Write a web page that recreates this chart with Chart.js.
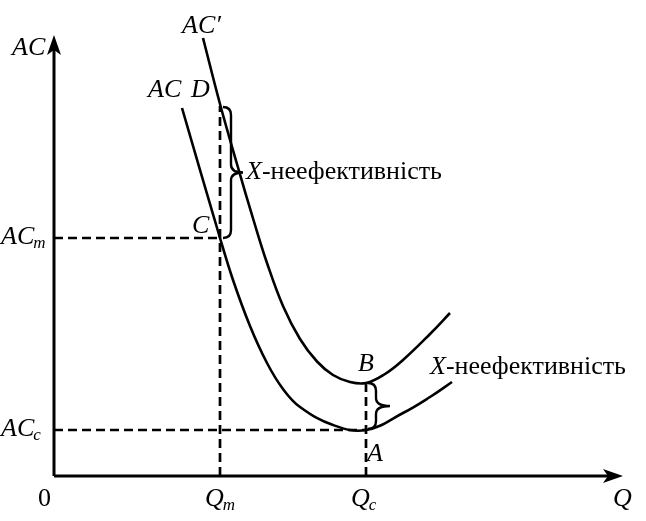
<!DOCTYPE html>
<html>
<head>
<meta charset="utf-8">
<script src="https://cdn.jsdelivr.net/npm/chart.js@4/dist/chart.umd.min.js"></script>
<style>
  html, body { margin: 0; padding: 0; background: #ffffff; }
  canvas { display: block; }
</style>
</head>
<body>
<canvas id="c" width="646" height="521"></canvas>
<script>
// ---- Data (units: quantity Q on x, average cost AC on y) ----
const acQ      = [128, 166, 179, 196, 213, 229, 246, 279, 312, 349, 376, 398];
const acCost   = [368, 238, 196, 150, 113,  87,  69,  51,  46,  63,  79,  94];
const acPrimeQ    = [149, 166, 183, 201, 213, 229, 246, 263,   279, 296, 312, 331, 349, 376, 396];
const acPrimeCost = [438, 372, 312, 251, 213, 170, 137, 114.5, 101,  94,  93, 102, 116, 142, 163];
const qLevels  = [166, 312];        // Q_m, Q_c
const acLevels = [238, 46];         // AC_m, AC_c
const upperLevels = [370, 93];      // D (on AC' at Q_m), B (on AC' at Q_c)
const tickLabels = ['0', 'Q', 'Q', 'Q'];
const tickSubs   = ['', 'm', 'c', ''];
const axisMax = [569, 441];         // x max, y max
const ineffLabel = 'X-неефективність';

function pts(xs, ys) { return xs.map((x, i) => ({ x: x, y: ys[i] })); }

const dashStyle = { borderColor: '#000', borderWidth: 2.7, borderDash: [9, 5], showLine: true, pointRadius: 0 };
const datasets = [
  { data: pts(acQ, acCost), borderColor: '#000', borderWidth: 2.6, showLine: true, pointRadius: 0, tension: 0.4 },
  { data: pts(acPrimeQ, acPrimeCost), borderColor: '#000', borderWidth: 2.6, showLine: true, pointRadius: 0, tension: 0.4 },
  // dashed guides
  Object.assign({ data: [{ x: 0, y: acLevels[0] }, { x: qLevels[0], y: acLevels[0] }] }, dashStyle),
  Object.assign({ data: [{ x: qLevels[0], y: 0 }, { x: qLevels[0], y: upperLevels[0] }] }, dashStyle),
  Object.assign({ data: [{ x: 0, y: acLevels[1] }, { x: qLevels[1], y: acLevels[1] }] }, dashStyle),
  Object.assign({ data: [{ x: qLevels[1], y: 0 }, { x: qLevels[1], y: upperLevels[1] }] }, dashStyle)
];

const F = '"Liberation Serif", "Times New Roman", serif';
const FS = 26, SUB = 17;

function brace(ctx, x0, xs, xt, yTop, yBot) {
  const ym = (yTop + yBot) / 2, r = 8;
  ctx.beginPath();
  ctx.moveTo(x0, yTop);
  ctx.quadraticCurveTo(xs, yTop, xs, yTop + r);
  ctx.lineTo(xs, ym - r);
  ctx.quadraticCurveTo(xs, ym, xt, ym);
  ctx.quadraticCurveTo(xs, ym, xs, ym + r);
  ctx.lineTo(xs, yBot - r);
  ctx.quadraticCurveTo(xs, yBot, x0, yBot);
  ctx.stroke();
}

function txt(ctx, s, x, y, style, size) {
  ctx.font = style + ' ' + size + 'px ' + F;
  ctx.fillText(s, x, y);
  return ctx.measureText(s).width;
}

function ineff(ctx, x, y) {
  const w = txt(ctx, 'X', x, y, 'italic', FS);
  txt(ctx, ineffLabel.slice(1), x + w, y, 'normal', FS);
}

const overlay = {
  id: 'overlay',
  afterDatasetsDraw(chart) {
    const ctx = chart.ctx;
    const xs = chart.scales.x, ys = chart.scales.y;
    const X = v => xs.getPixelForValue(v), Y = v => ys.getPixelForValue(v);
    const ox = X(0), oy = Y(0), xEnd = X(axisMax[0]), yEnd = Y(axisMax[1]);
    ctx.save();
    ctx.strokeStyle = '#000'; ctx.fillStyle = '#000';
    ctx.lineCap = 'butt';
    // axes
    ctx.lineWidth = 3;
    ctx.beginPath();
    ctx.moveTo(ox, oy); ctx.lineTo(xEnd - 10, oy);
    ctx.moveTo(ox, oy); ctx.lineTo(ox, yEnd + 10);
    ctx.stroke();
    // arrowheads
    ctx.beginPath();
    ctx.moveTo(xEnd, oy); ctx.lineTo(xEnd - 20, oy - 7); ctx.lineTo(xEnd - 15, oy); ctx.lineTo(xEnd - 20, oy + 7); ctx.closePath();
    ctx.fill();
    ctx.beginPath();
    ctx.moveTo(ox, yEnd); ctx.lineTo(ox - 7, yEnd + 20); ctx.lineTo(ox, yEnd + 15); ctx.lineTo(ox + 7, yEnd + 20); ctx.closePath();
    ctx.fill();
    // braces
    ctx.lineWidth = 2.4;
    brace(ctx, X(qLevels[0]) + 3, X(qLevels[0]) + 11, X(qLevels[0]) + 23, Y(upperLevels[0]) + 1, Y(acLevels[0]));
    brace(ctx, X(qLevels[1]) + 2, X(qLevels[1]) + 10, X(qLevels[1]) + 24, Y(upperLevels[1]), Y(acLevels[1]) - 1);
    // labels
    ctx.textBaseline = 'alphabetic';
    ctx.textAlign = 'left';
    txt(ctx, 'AC', 12, yEnd + 20, 'italic', FS);
    txt(ctx, "AC\u2032", 182, 33, 'italic', FS);
    txt(ctx, 'AC', 148, 97, 'italic', FS);
    txt(ctx, 'D', 191, 97, 'italic', FS);
    txt(ctx, 'C', X(qLevels[0]) - 28, Y(acLevels[0]) - 5, 'italic', FS);
    txt(ctx, 'B', X(qLevels[1]) - 8, Y(upperLevels[1]) - 12, 'italic', FS);
    txt(ctx, 'A', X(qLevels[1]) + 1, Y(acLevels[1]) + 31, 'italic', FS);
    // y level labels
    let w = txt(ctx, 'AC', 1, Y(acLevels[0]) + 6, 'italic', FS);
    txt(ctx, 'm', 1 + w - 1, Y(acLevels[0]) + 10, 'italic', SUB);
    w = txt(ctx, 'AC', 1, Y(acLevels[1]) + 6, 'italic', FS);
    txt(ctx, 'c', 1 + w - 1, Y(acLevels[1]) + 10, 'italic', SUB);
    // x tick labels
    const tickPos = [0, qLevels[0], qLevels[1], axisMax[0]];
    const tickOff = [-16, -15, -15, -10];
    tickLabels.forEach((lab, i) => {
      const x0 = X(tickPos[i]) + tickOff[i];
      const style = i === 0 ? 'normal' : 'italic';
      const ww = txt(ctx, lab, x0, oy + 30, style, FS);
      if (tickSubs[i]) txt(ctx, tickSubs[i], x0 + ww - 1, oy + 34, 'italic', SUB);
    });
    // X-inefficiency labels
    ineff(ctx, X(qLevels[0]) + 26, Y(upperLevels[0]) + 73);
    ineff(ctx, X(qLevels[1]) + 64, Y(upperLevels[1]) - 9);
    ctx.restore();
  }
};

new Chart(document.getElementById('c'), {
  type: 'scatter',
  data: { datasets: datasets },
  options: {
    responsive: false,
    animation: false,
    layout: { padding: { left: 54, right: 23, top: 35, bottom: 45 } },
    plugins: { legend: { display: false }, tooltip: { enabled: false } },
    scales: {
      x: { type: 'linear', min: 0, max: axisMax[0], display: false },
      y: { type: 'linear', min: 0, max: axisMax[1], display: false }
    },
    elements: { line: { fill: false } }
  },
  plugins: [overlay]
});
</script>
</body>
</html>
